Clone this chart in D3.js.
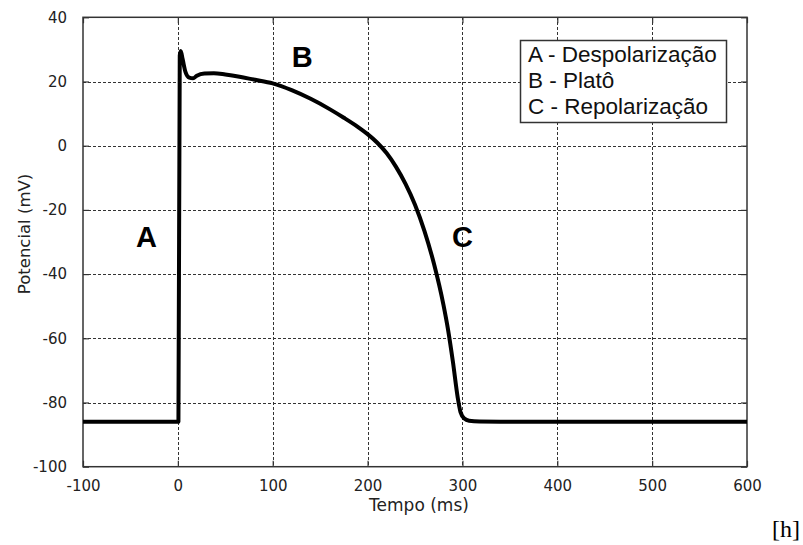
<!DOCTYPE html>
<html>
<head>
<meta charset="utf-8">
<script src="https://cdn.jsdelivr.net/npm/d3@7"></script>
<style>
  html, body { margin: 0; padding: 0; background: #fff; }
  svg { display: block; }
</style>
</head>
<body>
<svg id="chart" width="803" height="545"></svg>
<script>
// ---- data ----
const timeMs = [-100, 0, 0.6, 2, 3, 5, 8, 12, 16, 20, 28, 38, 50, 65, 80, 100, 120, 140, 160, 175, 190, 200, 210, 220, 230, 240, 250, 260, 270, 280, 285, 290, 295, 298, 302, 307, 318, 340, 450, 600];
const potentialMv = [-86, -86, -86, 28, 29.5, 27, 23, 21.2, 21, 21.8, 22.5, 22.6, 22.2, 21.5, 20.6, 19.4, 17.3, 14.6, 11.4, 8.7, 5.8, 3.6, 1.0, -2.3, -6.6, -11.9, -18.4, -26.6, -36.8, -49.6, -57.6, -67.4, -78.4, -83, -85, -85.7, -85.95, -86, -86, -86];
const xTicks = [-100, 0, 100, 200, 300, 400, 500, 600];
const yTicks = [-100, -80, -60, -40, -20, 0, 20, 40];
const phaseLabels = ["A", "B", "C"];
const phaseX = [-33, 131, 300];
const phaseY = [-31.5, 24.5, -31.5];
const legendLines = ["A - Despolarização", "B - Platô", "C - Repolarização"];

// ---- layout ----
const svg = d3.select("#chart");
const L = 83, R = 747, T = 17.3, B = 466.7;
const x = d3.scaleLinear().domain([-100, 600]).range([L, R]);
const y = d3.scaleLinear().domain([-100, 40]).range([B, T]);

// grid
const grid = svg.append("g").attr("stroke", "#333").attr("stroke-width", 1)
  .attr("stroke-dasharray", "3,2").attr("shape-rendering", "crispEdges");
xTicks.filter(t => t > -100 && t < 600).forEach(t => {
  grid.append("line").attr("x1", Math.round(x(t)) + 0.5).attr("x2", Math.round(x(t)) + 0.5)
    .attr("y1", T).attr("y2", B);
});
yTicks.filter(t => t > -100 && t < 40).forEach(t => {
  grid.append("line").attr("y1", Math.round(y(t)) + 0.5).attr("y2", Math.round(y(t)) + 0.5)
    .attr("x1", L).attr("x2", R);
});

// axes (ticks inward)
const tickLen = 6;
const fmt = d => String(d);
const fontTick = "'DejaVu Sans', sans-serif";
const xAxisB = svg.append("g").attr("transform", `translate(0,${B})`)
  .call(d3.axisBottom(x).tickValues(xTicks).tickFormat(fmt).tickSizeInner(-tickLen).tickSizeOuter(0).tickPadding(14));
const xAxisT = svg.append("g").attr("transform", `translate(0,${T})`)
  .call(d3.axisTop(x).tickValues(xTicks).tickSizeInner(-tickLen).tickSizeOuter(0).tickFormat(""));
const yAxisL = svg.append("g").attr("transform", `translate(${L},0)`)
  .call(d3.axisLeft(y).tickValues(yTicks).tickFormat(fmt).tickSizeInner(-tickLen).tickSizeOuter(0).tickPadding(16));
const yAxisR = svg.append("g").attr("transform", `translate(${R},0)`)
  .call(d3.axisRight(y).tickValues(yTicks).tickSizeInner(-tickLen).tickSizeOuter(0).tickFormat(""));
[xAxisB, xAxisT, yAxisL, yAxisR].forEach(g => {
  g.select(".domain").remove();
  g.selectAll(".tick line").attr("stroke", "#333").attr("stroke-width", 1.2);
  g.selectAll("text").attr("font-family", fontTick).attr("font-size", 15).attr("fill", "#222");
});

// frame
svg.append("rect").attr("x", L).attr("y", T).attr("width", R - L).attr("height", B - T)
  .attr("fill", "none").attr("stroke", "#333").attr("stroke-width", 1.5);

// curve
const pts = timeMs.map((t, i) => [t, potentialMv[i]]);
svg.append("path").datum(pts)
  .attr("fill", "none").attr("stroke", "#000").attr("stroke-width", 4)
  .attr("stroke-linejoin", "round").attr("stroke-linecap", "butt")
  .attr("d", d3.line().x(d => x(d[0])).y(d => y(d[1])).curve(d3.curveMonotoneX));

// phase letters
phaseLabels.forEach((s, i) => {
  svg.append("text").attr("x", x(phaseX[i])).attr("y", y(phaseY[i]))
    .attr("text-anchor", "middle").attr("font-family", "'Liberation Sans', Arial, sans-serif")
    .attr("font-weight", "bold").attr("font-size", 29).attr("fill", "#000").text(s);
});

// legend
const lg = svg.append("g");
lg.append("rect").attr("x", 520.5).attr("y", 40.5).attr("width", 206).attr("height", 82)
  .attr("fill", "#fff").attr("stroke", "#333").attr("stroke-width", 1.5);
legendLines.forEach((s, i) => {
  lg.append("text").attr("x", 528).attr("y", 62 + i * 25.8)
    .attr("font-family", "'Liberation Sans', Arial, sans-serif").attr("font-size", 22.5)
    .attr("fill", "#111").text(s);
});

// axis titles
svg.append("text").attr("x", 419).attr("y", 511).attr("text-anchor", "middle")
  .attr("font-family", fontTick).attr("font-size", 17).attr("fill", "#222").text("Tempo (ms)");
svg.append("text").attr("transform", "translate(30,234) rotate(-90)").attr("text-anchor", "middle")
  .attr("font-family", fontTick).attr("font-size", 16.5).attr("fill", "#222").text("Potencial (mV)");

// stray label
svg.append("text").attr("x", 772).attr("y", 537)
  .attr("font-family", "'Liberation Serif', 'DejaVu Serif', serif").attr("font-size", 24)
  .attr("fill", "#000").text("[h]");
</script>
</body>
</html>
